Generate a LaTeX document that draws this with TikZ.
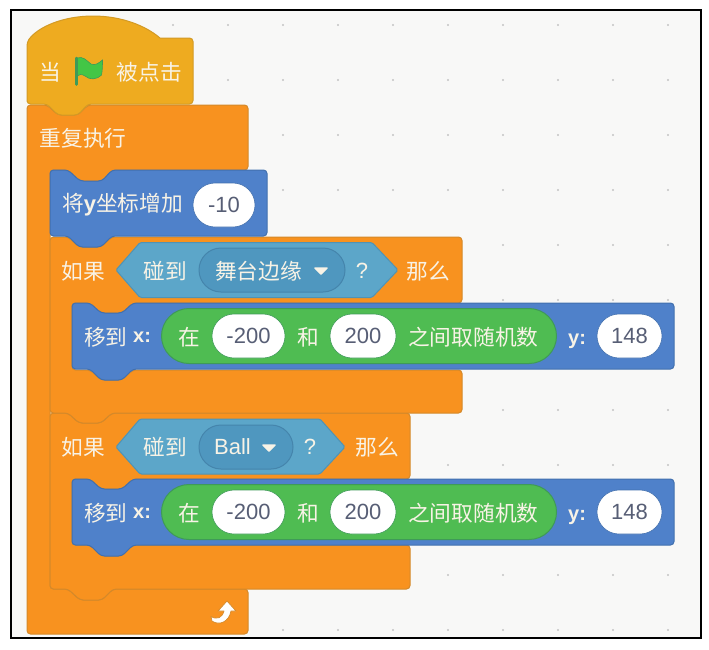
\documentclass[tikz,border=0pt]{standalone}
\usepackage{fontspec}
\setmainfont{Liberation Sans}
\newfontfamily\cjk{Noto Sans CJK SC}
\usetikzlibrary{shapes.misc}
\definecolor{paper}{HTML}{F8F8F7}
\definecolor{griddot}{HTML}{C4C4C4}
\definecolor{hatfill}{HTML}{EEAB20}
\definecolor{hatline}{HTML}{D39A25}
\definecolor{ctlfill}{HTML}{F8921F}
\definecolor{ctlline}{HTML}{D4892A}
\definecolor{bluefill}{HTML}{4F81CA}
\definecolor{blueline}{HTML}{4270AE}
\definecolor{greenfill}{HTML}{4FBC52}
\definecolor{greenline}{HTML}{3F9A58}
\definecolor{hexfill}{HTML}{5CA6C9}
\definecolor{hexline}{HTML}{4F93B5}
\definecolor{dropfill}{HTML}{4F97BF}
\definecolor{dropline}{HTML}{4585AC}
\definecolor{lbl}{HTML}{F8F3E6}
\definecolor{numtxt}{HTML}{575E75}
\tikzset{
  x=1pt,y=-1pt,
  hatblock/.style={fill=hatfill,draw=hatline,line width=1pt,rounded corners=3.5pt},
  ctlblock/.style={fill=ctlfill,draw=ctlline,line width=1pt,rounded corners=3.5pt},
  blueblock/.style={fill=bluefill,draw=blueline,line width=1pt,rounded corners=3.5pt},
  hexblock/.style={fill=hexfill,draw=hexline,line width=1pt,rounded corners=1.5pt},
  txt/.style={inner sep=0pt,text=lbl,font=\cjk\fontsize{21.7}{21.7}\selectfont},
  latin/.style={inner sep=0pt,text=lbl,font=\fontsize{22}{22}\selectfont},
  latinb/.style={inner sep=0pt,text=lbl,font=\bfseries\fontsize{20}{20}\selectfont},
  valuepill/.style={rounded rectangle,fill=white,draw=greenline,line width=.6pt,inner sep=0pt,minimum height=44pt,text=numtxt,font=\fontsize{22}{22}\selectfont},
  bluepill/.style={valuepill,draw=blueline},
  greenpill/.style={rounded rectangle,fill=greenfill,draw=greenline,line width=1pt,inner sep=0pt,minimum height=55pt},
  droppill/.style={rounded rectangle,fill=dropfill,draw=dropline,line width=1pt,inner sep=0pt,minimum height=44pt},
  griddotstyle/.style={fill=griddot},
  caret/.style={fill=lbl,draw=lbl,line width=1.5pt,line join=round},
}
\newcommand{\movexy}[1]{%
  \begin{scope}[yshift=-#1pt]
  \draw[blueblock] (72,0)--(90,0)--(101,10)--(122,10)--(133,0)--(674,0)--(674,66)--(133,66)--(122,77)--(101,77)--(90,66)--(72,66)--cycle;
  \end{scope}}
\begin{document}
\begin{tikzpicture}
\useasboundingbox (0,0) rectangle (709,649);
\fill[white] (0,0) rectangle (709,649);
\fill[paper] (11,10) rectangle (701,638);
\foreach \gx in {63,118,...,700}
  \foreach \gy in {25,80,...,635}
    \fill[griddotstyle] (\gx,\gy) circle (1.2pt);
\draw[black,line width=2pt] (10.5,10) rectangle (701,638);

% repeat block
\draw[ctlblock] (27,105)--(47,105)--(58,115)--(78,115)--(88,105)--(248,105)--(248,170)--(113,170)--(102,181)--(80,181)--(68,170)--(50,170)--(50,589)--(68,589)--(80,600)--(102,600)--(113,589)--(248,589)--(248,634)--(27,634)--cycle;
% hat block
\draw[hatblock] (27,98) -- (27,42) [rounded corners=0pt] .. controls (38,27) and (63,16) .. (93,16) .. controls (122,16) and (146,26) .. (160,38) [rounded corners=3.5pt] -- (193,38) -- (193,104) -- (88,104) -- (78,115) -- (58,115) -- (47,104) -- (27,104) -- cycle;
% second if block
\draw[ctlblock] (50,413)--(68,413)--(79,423)--(101,423)--(112,413)--(410,413)--(410,479)--(133,479)--(122,489)--(101,489)--(90,479)--(72,479)--(72,545)--(90,545)--(101,556)--(122,556)--(133,545)--(410,545)--(410,589)--(113,589)--(102,600)--(80,600)--(68,589)--(50,589)--cycle;
% first if block
\draw[ctlblock] (50,237)--(68,237)--(79,247)--(101,247)--(112,237)--(462,237)--(462,303)--(133,303)--(122,313)--(101,313)--(90,303)--(72,303)--(72,370)--(90,370)--(101,380)--(122,380)--(133,370)--(462,370)--(462,413)--(112,413)--(101,423)--(79,423)--(68,413)--(50,413)--cycle;
% blue move-y block
\draw[blueblock] (50,170)--(68,170)--(80,181)--(102,181)--(112,170)--(267,170)--(267,236)--(112,236)--(101,247)--(79,247)--(68,236)--(50,236)--cycle;
\movexy{303}
\movexy{479}

% hat content
\node[txt] (whenlbl) at (50,72) {当};
\fill[greenfill!85!green,draw=greenline,line width=.6pt] (77,58) .. controls (83,56) and (86,60) .. (91,64) .. controls (95,66) and (99,63) .. (102.5,60) .. controls (102.5,65) and (102.5,70) .. (101.5,75) .. controls (96,80) and (90,80) .. (85,76) .. controls (82,74) and (79,74) .. (77,76) -- cycle;
\draw[greenline,line width=2.5pt,line cap=round] (76.5,58) -- (76.5,84.5);
\node[txt] (clicked) at (149.5,72) {被点击};

% repeat content
\node[txt] (repeatlbl) at (83,138) {重复执行};

% change y
\node[anchor=west,inner sep=0pt,text=lbl] (changey) at (62,205) {\cjk\fontsize{21.7}{21.7}\selectfont 将\fontspec{Liberation Sans}\bfseries\fontsize{22}{22}\selectfont y\cjk\mdseries\fontsize{21.7}{21.7}\selectfont 坐标增加};
\node[valuepill,draw=blueline,minimum width=62pt] (minusten) at (224,205) {-10};

% first if
\node[txt] (if1) at (83,271) {如果};
\draw[hexblock] (116,270)--(140,242.5)--(372,242.5)--(398,270)--(372,297.5)--(140,297.5)--cycle;
\node[txt] (touch1) at (165.5,271) {碰到};
\node[droppill,minimum width=146pt] (drop1) at (272,270) {};
\node[txt,anchor=west] (edge) at (215,271) {舞台边缘};
\draw[caret] (315,268)--(327,268)--(321,274)--cycle;
\node[latin] (q1) at (362,271) {?};
\node[txt] (then1) at (428.5,271) {那么};

% first move
\node[txt,anchor=west] (moveto1) at (84,337) {移到};
\node[latinb,anchor=west] (xa) at (133,337) {x:};
\node[greenpill,minimum width=395pt] (rnd1) at (359,336) {};
\node[txt] (zai1) at (189,337) {在};
\node[valuepill,minimum width=73pt] (lo1) at (248.5,336) {-200};
\node[txt] (he1) at (308,337) {和};
\node[valuepill,minimum width=66pt] (hi1) at (363,336) {200};
\node[txt,anchor=west] (between1) at (408,337) {之间取随机数};
\node[latinb,anchor=base west] (ya) at (568,344) {y:};
\node[bluepill,minimum width=65pt] (ycoord1) at (629.5,336) {148};

% second if
\node[txt] (if2) at (83,447) {如果};
\draw[hexblock] (116,447)--(140,419)--(320,419)--(345,447)--(320,474)--(140,474)--cycle;
\node[txt] (touch2) at (165.5,447) {碰到};
\node[droppill,minimum width=94pt] (drop2) at (246,447) {};
\node[latin,anchor=west] (ball) at (214,447) {Ball};
\draw[caret] (263,445)--(275,445)--(269,451)--cycle;
\node[latin] (q2) at (310,447) {?};
\node[txt] (then2) at (377,447) {那么};

% second move
\node[txt,anchor=west] (moveto2) at (84,513) {移到};
\node[latinb,anchor=west] (xb) at (133,513) {x:};
\node[greenpill,minimum width=395pt] (rnd2) at (359,512) {};
\node[txt] (zai2) at (189,513) {在};
\node[valuepill,minimum width=73pt] (lo2) at (248.5,512) {-200};
\node[txt] (he2) at (308,513) {和};
\node[valuepill,minimum width=66pt] (hi2) at (363,512) {200};
\node[txt,anchor=west] (between2) at (408,513) {之间取随机数};
\node[latinb,anchor=base west] (yb) at (568,520) {y:};
\node[bluepill,minimum width=65pt] (ycoord2) at (629.5,512) {148};

% loop arrow
\fill[white,draw=ctlline,line width=.7pt,line join=round] (211,616.5) .. controls (217,620) and (222,618) .. (224,611) -- (218,611) -- (227,601) -- (236,611) -- (231,611) .. controls (229,622) and (219,626) .. (212,621) -- cycle;
\end{tikzpicture}
\end{document}
